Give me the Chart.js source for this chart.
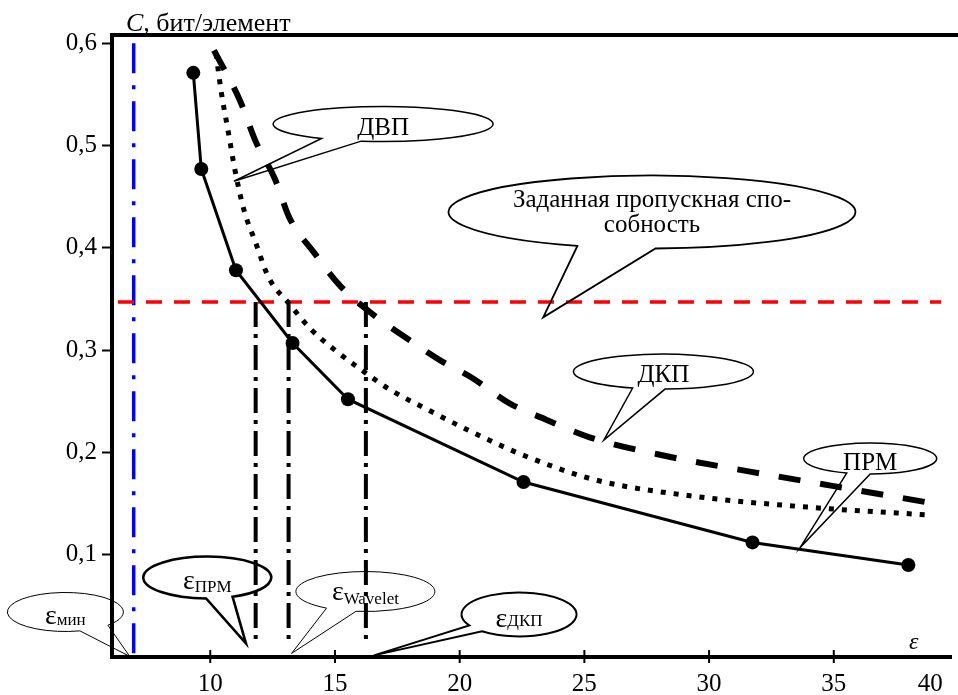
<!DOCTYPE html>
<html>
<head>
<meta charset="utf-8">
<script src="https://cdn.jsdelivr.net/npm/chart.js@4.4.1/dist/chart.umd.min.js"></script>
<style>
  html, body { margin: 0; padding: 0; background: #fff; }
  canvas { display: block; }
</style>
</head>
<body>
<canvas id="graph" width="958" height="695"></canvas>
<script>
// оси
const xMin = 6.06, xMax = 39.7;
const yMin = 0, yMax = 0.608;
const xTicks = [10, 15, 20, 25, 30, 35, 40];
const yTicks = [0.1, 0.2, 0.3, 0.4, 0.5, 0.6];

// ПРМ (сплошная с точками)
const prmX = [9.32, 9.64, 11.03, 13.30, 15.52, 22.56, 31.74, 37.99];
const prmY = [0.571, 0.477, 0.378, 0.307, 0.252, 0.171, 0.112, 0.090];

// ДКП (точки)
const dkpX = [10.23, 10.43, 10.71, 10.99, 11.35, 11.82, 12.34, 13.14, 14.05, 15.00, 16.04, 17.23, 18.70, 20.57, 22.68, 25.46, 29.44, 34.21, 38.70];
const dkpY = [0.590, 0.554, 0.515, 0.476, 0.437, 0.405, 0.371, 0.346, 0.320, 0.300, 0.281, 0.261, 0.242, 0.219, 0.196, 0.173, 0.157, 0.146, 0.139];

// ДВП (штрих)
const dvpX = [10.15, 11.19, 11.82, 12.58, 13.18, 14.17, 15.20, 16.52, 17.79, 19.22, 20.49, 22.00, 23.47, 25.18, 28.36, 31.70, 35.00, 38.78];
const dvpY = [0.593, 0.544, 0.504, 0.468, 0.429, 0.395, 0.363, 0.335, 0.313, 0.290, 0.273, 0.248, 0.232, 0.215, 0.196, 0.181, 0.167, 0.151];

// заданная пропускная способность
const capLevel = 0.347;
const capX = [6.3, 39.3];

// ε мин и точки пересечения
const epsMin = 6.93;
const epsMinY = [0.6, 0];
const epsCuts = [11.82, 13.14, 16.24];
const cutBottom = 0.014;

// выноски
const callouts = [
  { lines: ['ДВП'], x: 16.93, y: 0.521, tipX: 10.95, tipY: 0.465, rx: 110, ry: 17.5, gap: [101.5, 124], lw: 1.5, dy: 10.5 },
  { lines: ['Заданная пропускная спо-', 'собность'], x: 27.71, y: 0.435, tipX: 23.35, tipY: 0.332, rx: 203.5, ry: 36.5, gap: [89, 111.5], lw: 1.8, dy: -4.5, size: 25 },
  { lines: ['ДКП'], x: 28.17, y: 0.279, tipX: 25.78, tipY: 0.212, rx: 90, ry: 17.5, gap: [89, 110], lw: 1.5, dy: 10.5 },
  { lines: ['ПРМ'], x: 36.46, y: 0.194, tipX: 33.65, tipY: 0.107, rx: 66.5, ry: 15.5, gap: [90, 110.7], lw: 1.5, dy: 11.5 },
  { sub: 'ПРМ', x: 9.88, y: 0.0777, tipX: 11.43, tipY: 0.0133, rx: 64, ry: 21, gap: [66.7, 91], lw: 2.6, dy: 11, subDy: 14.5 },
  { sub: 'Wavelet', x: 16.22, y: 0.064, tipX: 13.26, tipY: 0.0035, rx: 69.5, ry: 20, gap: [97.8, 124], lw: 1, dy: 8, subDy: 12 },
  { sub: 'ДКП', x: 22.38, y: 0.0416, tipX: 16.56, tipY: 0.0016, rx: 57.5, ry: 22, gap: [130, 150], lw: 2, dy: 13, subDy: 12 },
  { sub: 'мин', x: 4.19, y: 0.044, tipX: 6.77, tipY: 0.0006, rx: 58, ry: 19.5, gap: [42.8, 75.5], lw: 1, dy: 12.5, subDy: 13 }
];

const FONT = "'Liberation Serif', 'Times New Roman', serif";
const pts = (xs, ys) => xs.map((x, i) => ({ x: x, y: ys[i] }));

const datasets = [
  {
    label: 'ПРМ', data: pts(prmX, prmY),
    borderColor: '#000', backgroundColor: '#000', borderWidth: 3,
    pointRadius: 7, pointBorderWidth: 0, tension: 0
  },
  {
    label: 'ДКП', data: pts(dkpX, dkpY),
    borderColor: '#000', borderWidth: 5, borderDash: [5, 8], borderCapStyle: 'butt',
    pointRadius: 0, cubicInterpolationMode: 'monotone'
  },
  {
    label: 'ДВП', data: pts(dvpX, dvpY),
    borderColor: '#000', borderWidth: 6, borderDash: [22, 20], borderCapStyle: 'butt',
    pointRadius: 0, cubicInterpolationMode: 'monotone'
  },
  {
    label: 'C зад', data: capX.map(x => ({ x: x, y: capLevel })),
    borderColor: '#ff0000', borderWidth: 3.5, borderDash: [16, 12], pointRadius: 0
  },
  {
    label: 'ε мин', data: epsMinY.map(y => ({ x: epsMin, y: y })),
    borderColor: '#0000ff', borderWidth: 3.5, borderDash: [30, 12, 4, 12], pointRadius: 0
  }
];
epsCuts.forEach(e => {
  datasets.push({
    label: 'ε', data: [{ x: e, y: capLevel }, { x: e, y: cutBottom }],
    borderColor: '#000', borderWidth: 4, borderDash: [25, 7, 4, 7], pointRadius: 0
  });
});

const extras = {
  id: 'extras',
  afterDatasetsDraw(chart) {
    const ctx = chart.ctx, xs = chart.scales.x, ys = chart.scales.y, a = chart.chartArea;
    ctx.save();
    ctx.strokeStyle = '#000';
    ctx.fillStyle = '#000';
    // верхняя рамка
    ctx.lineWidth = 4;
    ctx.beginPath();
    ctx.moveTo(a.left - 2, a.top);
    ctx.lineTo(chart.width, a.top);
    ctx.stroke();
    // засечки оси X (через ось)
    ctx.lineWidth = 2;
    xTicks.slice(0, -1).forEach(v => {
      const px = xs.getPixelForValue(v);
      ctx.beginPath();
      ctx.moveTo(px, a.bottom - 7);
      ctx.lineTo(px, a.bottom + 6);
      ctx.stroke();
    });
    // выноски
    callouts.forEach(b => {
      const cx = xs.getPixelForValue(b.x), cy = ys.getPixelForValue(b.y);
      const tx = xs.getPixelForValue(b.tipX), ty = ys.getPixelForValue(b.tipY);
      const a1 = b.gap[0] * Math.PI / 180, a2 = b.gap[1] * Math.PI / 180;
      ctx.beginPath();
      ctx.ellipse(cx, cy, b.rx, b.ry, 0, a2, a1 + 2 * Math.PI);
      ctx.lineTo(tx, ty);
      ctx.closePath();
      ctx.lineWidth = b.lw;
      ctx.stroke();
      ctx.textBaseline = 'alphabetic';
      if (b.lines) {
        ctx.font = (b.size || 25) + 'px ' + FONT;
        ctx.textAlign = 'center';
        b.lines.forEach((t, i) => ctx.fillText(t, cx, cy + b.dy + i * 25));
      } else {
        ctx.textAlign = 'left';
        ctx.font = '28px ' + FONT;
        const w1 = ctx.measureText('ε').width;
        ctx.font = '17px ' + FONT;
        const w2 = ctx.measureText(b.sub).width;
        const x0 = cx - (w1 + w2) / 2;
        ctx.font = '28px ' + FONT;
        ctx.fillText('ε', x0, cy + b.dy);
        ctx.font = '17px ' + FONT;
        ctx.fillText(b.sub, x0 + w1, cy + b.subDy);
      }
    });
    // подписи осей
    ctx.textAlign = 'left';
    ctx.font = 'italic 26px ' + FONT;
    ctx.fillText('C,', 126, a.top - 4);
    const wc = ctx.measureText('C, ').width;
    ctx.font = '26px ' + FONT;
    ctx.fillText('бит/элемент', 126 + wc, a.top - 4);
    ctx.font = 'italic 24px ' + FONT;
    ctx.fillText('ε', a.right - 42, a.bottom - 8);
    ctx.restore();
  }
};

new Chart(document.getElementById('graph'), {
  type: 'scatter',
  data: { datasets: datasets },
  options: {
    responsive: false,
    animation: false,
    showLine: true,
    layout: { padding: { top: 35, left: 0, right: 0, bottom: 0 } },
    plugins: { legend: { display: false }, tooltip: { enabled: false } },
    scales: {
      x: {
        type: 'linear', min: xMin, max: xMax,
        afterFit: s => { s.height = 38; },
        afterBuildTicks: s => { s.ticks = xTicks.map(v => ({ value: Math.min(v, xMax - 0.83) })); },
        border: { display: true, color: '#000', width: 4 },
        grid: { display: true, drawOnChartArea: false, drawTicks: true, tickLength: 6, tickColor: 'rgba(0,0,0,0)' },
        ticks: {
          color: '#000', padding: 6, maxRotation: 0, autoSkip: false,
          font: { family: FONT, size: 25 },
          callback: (v, i) => xTicks[i]
        }
      },
      y: {
        type: 'linear', min: yMin, max: yMax,
        afterFit: s => { s.width = 112; },
        afterBuildTicks: s => { s.ticks = yTicks.map(v => ({ value: v })); },
        border: { display: true, color: '#000', width: 4 },
        grid: { display: true, drawOnChartArea: false, drawTicks: true, tickLength: 10, tickWidth: 2, tickColor: '#000' },
        ticks: {
          color: '#000', padding: 5, autoSkip: false,
          font: { family: FONT, size: 25 },
          callback: v => v.toFixed(1).replace('.', ',')
        }
      }
    }
  },
  plugins: [extras]
});
</script>
</body>
</html>
